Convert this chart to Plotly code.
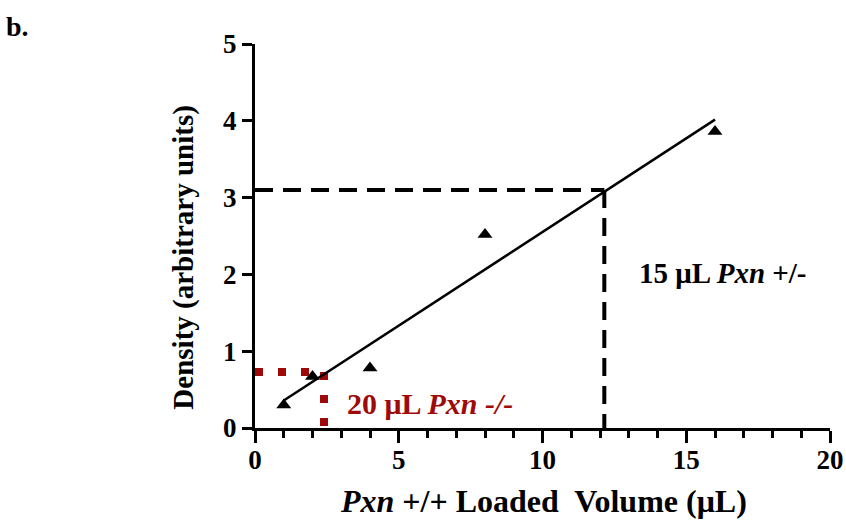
import numpy as np
import plotly.graph_objects as go

# data
volume = [1, 2, 4, 8, 16]
density = [0.30, 0.67, 0.78, 2.52, 3.86]
het_density = 3.10
het_volume = 12.15
ko_density = 0.73
ko_volume = 2.40
x_ticks = [0, 5, 10, 15, 20]
y_ticks = [0, 1, 2, 3, 4, 5]

FONT = "Liberation Serif"
RED = "#9e0a0a"

slope, intercept = np.polyfit(volume, density, 1)
fit_x = [min(volume), max(volume)]
fit_y = [slope * v + intercept for v in fit_x]

fig = go.Figure()

# black dashed guide (Pxn +/-)
fig.add_trace(go.Scatter(x=[0, het_volume], y=[het_density, het_density], mode="lines",
                         line=dict(color="black", width=4, dash="18px,10px"), hoverinfo="skip"))
fig.add_trace(go.Scatter(x=[het_volume, het_volume], y=[het_density, 0], mode="lines",
                         line=dict(color="black", width=4, dash="18px,10px"), hoverinfo="skip"))
# red dotted guide (Pxn -/-)
fig.add_trace(go.Scatter(x=[0, ko_volume], y=[ko_density, ko_density], mode="lines",
                         line=dict(color=RED, width=8, dash="8px,15px"), hoverinfo="skip"))
fig.add_trace(go.Scatter(x=[ko_volume, ko_volume], y=[ko_density, 0], mode="lines",
                         line=dict(color=RED, width=8, dash="8px,15px"), hoverinfo="skip"))
# regression
fig.add_trace(go.Scatter(x=fit_x, y=fit_y, mode="lines",
                         line=dict(color="black", width=2.5), hoverinfo="skip"))
# points
fig.add_trace(go.Scatter(x=volume, y=density, mode="markers",
                         marker=dict(symbol="triangle-up", size=13, color="black")))

axis_common = dict(showline=True, linecolor="black", linewidth=3, ticks="outside",
                   tickcolor="black", tickwidth=3, showgrid=False,
                   zeroline=False, mirror=False, automargin=False,
                   tickfont=dict(family=FONT, size=27, color="black", weight="bold"))

fig.update_xaxes(range=[0, 20], tickvals=x_ticks, ticklen=12, ticklabelstandoff=-6,
                 minor=dict(ticks="outside", ticklen=7, tickwidth=3, tickcolor="black", dtick=1, tick0=0),
                 **axis_common)
fig.update_yaxes(range=[0, 5], tickvals=y_ticks, ticklen=10, **axis_common)

ann_font = dict(family=FONT, size=29, color="black", weight="bold")
fig.update_layout(
    width=846, height=520,
    margin=dict(l=255, r=16, t=44, b=92, autoexpand=False),
    paper_bgcolor="white", plot_bgcolor="white",
    showlegend=False,
    annotations=[
        dict(text="15 μL <i>Pxn</i> +/-", x=13.3, y=2.02, xref="x", yref="y",
             xanchor="left", yanchor="middle", showarrow=False, font=ann_font),
        dict(text="20 μL <i>Pxn -/-</i>", x=3.12, y=0.32, xref="x", yref="y",
             xanchor="left", yanchor="middle", showarrow=False,
             font=dict(family=FONT, size=30, color=RED, weight="bold")),
        dict(text="<i>Pxn</i> +/+ Loaded\u00a0 Volume (μL)", x=0.501, y=-0.189,
             xref="paper", yref="paper", xanchor="center", yanchor="middle",
             showarrow=False, font=dict(family=FONT, size=32, color="black", weight="bold")),
        dict(text="Density (arbitrary units)", x=-0.125, y=0.444, textangle=-90,
             xref="paper", yref="paper", xanchor="center", yanchor="middle",
             showarrow=False, font=dict(family=FONT, size=29, color="black", weight="bold")),
        dict(text="b.", x=-0.436, y=1.09, xref="paper", yref="paper",
             xanchor="left", yanchor="top", showarrow=False,
             font=dict(family=FONT, size=28, color="black", weight="bold")),
    ],
)

fig.write_html("out.html")
